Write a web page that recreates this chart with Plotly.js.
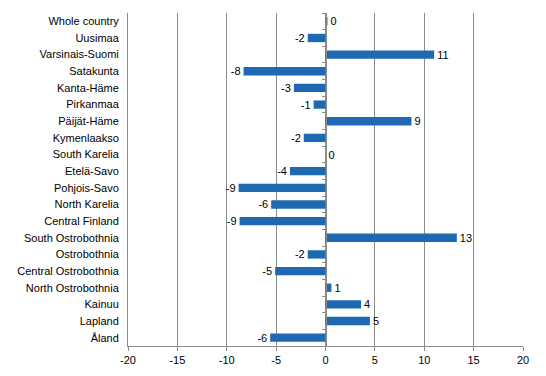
<!DOCTYPE html>
<html>
<head>
<meta charset="utf-8">
<script src="https://cdn.plot.ly/plotly-3.0.1.min.js"></script>
<style>html,body{margin:0;padding:0;background:#fff;}#chart{width:546px;height:376px;}</style>
</head>
<body>
<div id="chart"></div>
<script>
const regions = ["Whole country","Uusimaa","Varsinais-Suomi","Satakunta","Kanta-Häme","Pirkanmaa","Päijät-Häme","Kymenlaakso","South Karelia","Etelä-Savo","Pohjois-Savo","North Karelia","Central Finland","South Ostrobothnia","Ostrobothnia","Central Ostrobothnia","North Ostrobothnia","Kainuu","Lapland","Åland"];
const values = [0.2,-1.8,11.0,-8.3,-3.2,-1.2,8.7,-2.2,0,-3.6,-8.8,-5.5,-8.7,13.3,-1.8,-5.1,0.6,3.6,4.5,-5.6];
const labels = ["0","-2","11","-8","-3","-1","9","-2","0","-4","-9","-6","-9","13","-2","-5","1","4","5","-6"];
const xTicks = [-20,-15,-10,-5,0,5,10,15,20];

const grid = "#8c8c8c";
const font = {family: "Liberation Sans, Arial, sans-serif", size: 11, color: "#000"};

const data = [
  {
    type: "bar", orientation: "h", y: regions, x: values,
    text: labels, textposition: "outside", cliponaxis: false, constraintext: "none",
    textfont: font, outsidetextfont: font, marker: {color: "#1f69b2"}, hoverinfo: "skip"
  },
  {
    type: "bar", orientation: "h", y: regions, x: values.map(() => 0),
    yaxis: "y2", marker: {color: "rgba(0,0,0,0)"}, hoverinfo: "skip", showlegend: false
  }
];

const layout = {
  width: 546, height: 376,
  margin: {l: 128, r: 23, t: 13, b: 30},
  paper_bgcolor: "#fff", plot_bgcolor: "#fff",
  showlegend: false, bargap: 0.5, font: font, uniformtext: {mode: false},
  xaxis: {
    range: [-20, 20], tickvals: xTicks, ticktext: xTicks.map(String),
    showgrid: true, gridcolor: grid, gridwidth: 1,
    zeroline: false, showline: true, linecolor: grid, linewidth: 1,
    ticks: "outside", ticklen: 4, tickcolor: grid, tickfont: font
  },
  yaxis: {
    type: "category", autorange: "reversed",
    showline: true, linecolor: grid, ticks: "", showgrid: false,
    tickfont: font, ticklabelstandoff: 6
  },
  yaxis2: {
    type: "category", overlaying: "y", matches: "y", anchor: "free", position: 0.5,
    side: "left", showline: true, linecolor: grid, linewidth: 1,
    ticks: "outside", tickson: "boundaries", ticklen: 4, tickcolor: grid,
    showticklabels: false, showgrid: false, zeroline: false
  }
};

Plotly.newPlot("chart", data, layout, {staticPlot: true, displayModeBar: false});
</script>
</body>
</html>
